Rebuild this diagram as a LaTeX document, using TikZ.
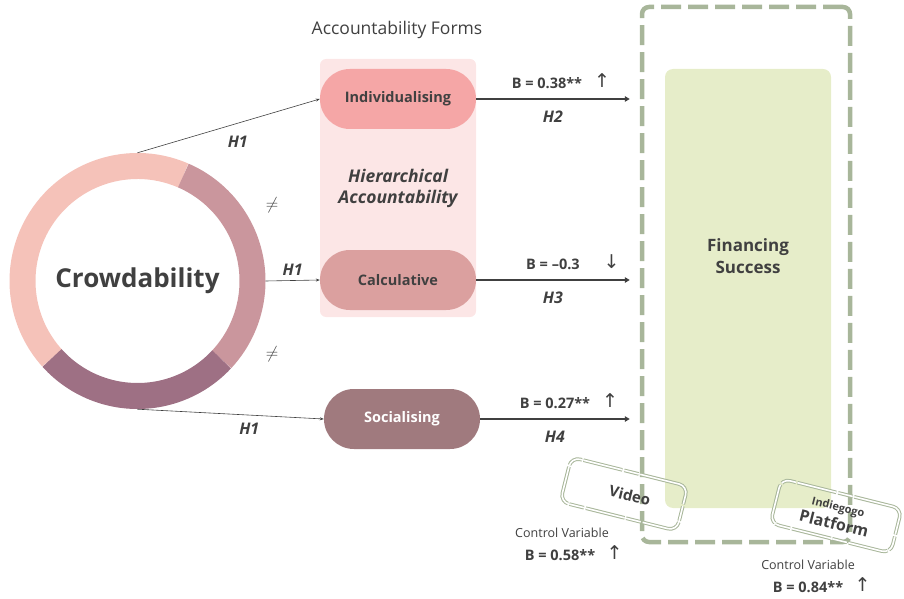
\documentclass[tikz,border=0pt]{standalone}
\usepackage{fontspec}
\setmainfont{Open Sans}
\newfontfamily\arrowfont{DejaVu Sans}
\usetikzlibrary{arrows.meta,positioning}
\definecolor{ink}{HTML}{404040}
\definecolor{ringA}{HTML}{F5C2B9}
\definecolor{ringB}{HTML}{CA969D}
\definecolor{ringC}{HTML}{9E7084}
\definecolor{hierbg}{HTML}{FCE6E6}
\definecolor{indivc}{HTML}{F5A6A6}
\definecolor{calcc}{HTML}{DBA09F}
\definecolor{socialc}{HTML}{A07A7E}
\definecolor{sage}{HTML}{A8B69A}
\definecolor{goalc}{HTML}{E6EDC9}

\begin{document}
\begin{tikzpicture}[x=1pt,y=1pt,
form/.style={rounded corners=29.9pt,minimum width=156pt,minimum height=60pt,inner sep=0pt,
  font=\fontsize{14.5}{16}\selectfont\bfseries,text=ink},
hyp/.style={font=\fontsize{16}{21}\selectfont\bfseries\itshape,text=ink,align=center},
coef/.style={font=\fontsize{14.5}{16}\selectfont\bfseries,text=ink,inner sep=1pt},
ctrl/.style={font=\fontsize{12.5}{14}\selectfont,text=ink},
dir/.style={font=\arrowfont\fontsize{19}{19}\selectfont,text=ink,inner sep=0pt},
link/.style={ink,line width=0.6pt,-{Stealth[length=4pt,width=3pt]}},
effect/.style={ink,line width=1.5pt,-{Triangle[length=5pt,width=5.5pt]}},
tag/.style={draw=sage,double=white,double distance=1.6pt,line width=1pt,
  rounded corners=9pt,minimum width=120pt,minimum height=46pt,rotate=-14,
  align=center,text=ink,dash pattern=on 40pt off 1.5pt on 15pt off 2pt}
]
\useasboundingbox (0,0) rectangle (904,598);

\node[circle,minimum size=256pt,inner sep=0pt,text=ink,
  font=\fontsize{26}{30}\selectfont\bfseries] (crowd) at (137.5,317) {Crowdability};
\draw[ringA,line width=26pt] (crowd.center) ++(66.5:115) arc[start angle=66.5,end angle=222,radius=115];
\draw[ringB,line width=26pt] (crowd.center) ++(-43:115) arc[start angle=-43,end angle=66.5,radius=115];
\draw[ringC,line width=26pt] (crowd.center) ++(-138:115) arc[start angle=-138,end angle=-43,radius=115];

\node[fill=hierbg,rounded corners=6pt,minimum width=156pt,minimum height=258pt,hyp,
  font=\fontsize{17.5}{21}\selectfont\bfseries\itshape] (hier)
  at (398,410) {Hierarchical\\Accountability};
\node[font=\fontsize{17.5}{20}\selectfont,text=ink] (forms) at (397,568) {Accountability Forms};

\node[form,fill=indivc] (indiv) at (398,499) {Individualising};
\node[form,fill=calcc] (calc) at (398,318) {Calculative};
\node[form,fill=socialc,text=white] (social) at (402,179) {Socialising};

\node[fill=goalc,rounded corners=8pt,minimum width=166pt,minimum height=439pt] (goal) at (748,309.5) {};
\node[font=\fontsize{17}{22}\selectfont\bfseries,text=ink,align=center] (goaltext) at (748,342) {Financing\\Success};
\node[draw=sage,line width=4.5pt,dash pattern=on 20pt off 7pt,rounded corners=7pt,
  minimum width=208pt,minimum height=535pt] (frame) at (746,323.5) {};

\draw[link] (crowd.north) -- node[hyp,pos=0.55,below=9pt] {H1} (indiv.west);
\draw[link] (crowd.east) -- node[hyp,midway,above=1pt] {H1} (calc.west);
\draw[link] (crowd.south) -- node[hyp,pos=0.6,below=4pt] {H1} (social.west);
\node[font=\fontsize{17}{17}\selectfont,text=ink] (ne1) at (272,393) {$\neq$};
\node[font=\fontsize{17}{17}\selectfont,text=ink] (ne2) at (272,244) {$\neq$};

\draw[effect] (indiv.east) -- node[coef,above=9pt,xshift=-6pt] (b2) {B = 0.38**}
  node[hyp,below=8pt] {H2} ([xshift=-10pt]frame.west |- indiv.east);
\node[dir,right=10pt of b2,yshift=2pt] {↑};
\draw[effect] (calc.east) -- node[coef,above=9pt] (b3) {B = \textendash0.3}
  node[hyp,below=8pt] {H3} ([xshift=-10pt]frame.west |- calc.east);
\node[dir,right=22pt of b3,yshift=2pt] {↓};
\draw[effect] (social.east) -- node[coef,above=9pt] (b4) {B = 0.27**}
  node[hyp,below=8pt] {H4} ([xshift=-10pt]frame.west |- social.east);
\node[dir,right=10pt of b4,yshift=2pt] {↑};

\node[tag,font=\fontsize{15}{16}\selectfont\bfseries] (video) at (624,104) {\hspace{12pt}Video};
\node[tag,minimum width=124pt] (platform) at (836,82)
  {{\fontsize{11}{13}\selectfont\bfseries Indiegogo}\\[3pt]{\fontsize{16}{17}\selectfont\bfseries Platform}};

\node[ctrl] (cv1) at (562,65) {Control Variable};
\node[coef] (b5) at (560,43) {B = 0.58**};
\node[dir,right=10pt of b5,yshift=2pt] {↑};
\node[ctrl] (cv2) at (808,33) {Control Variable};
\node[coef] (b6) at (808,11) {B = 0.84**};
\node[dir,right=10pt of b6,yshift=2pt] {↑};
\end{tikzpicture}
\end{document}
